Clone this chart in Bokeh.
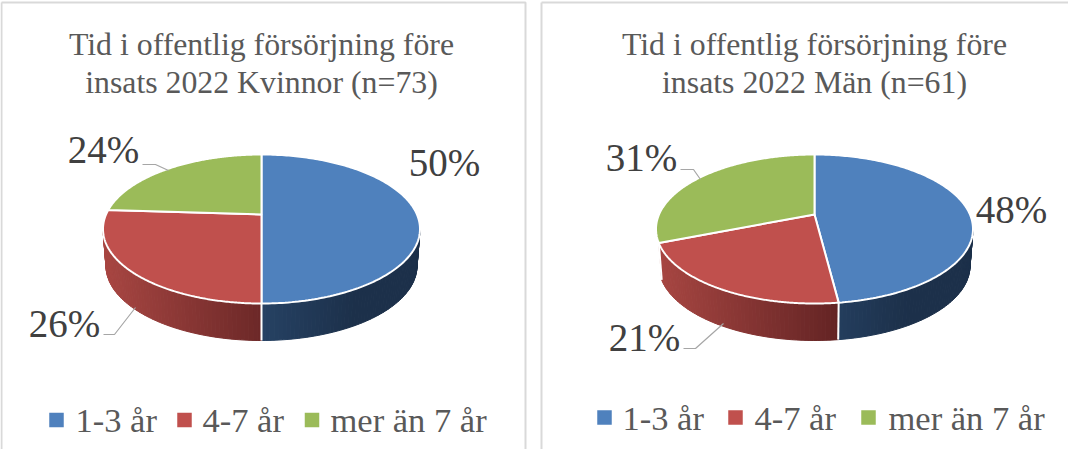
import numpy as np
from bokeh.plotting import figure
from bokeh.embed import file_html
from bokeh.resources import INLINE
from bokeh.models import Range1d
from bokeh.core.properties import value

categories = ["1-3 år", "4-7 år", "mer än 7 år"]
women = [50, 26, 24]
men = [48, 21, 31]
titles_women = ["Tid i offentlig försörjning före", "insats 2022 Kvinnor (n=73)"]
titles_men = ["Tid i offentlig försörjning före", "insats 2022 Män (n=61)"]
top_colors = ["#4F81BD", "#C0504D", "#9BBB59"]
side_light = [(38, 66, 100), (168, 70, 66), (120, 145, 70)]
side_dark = [(28, 48, 74), (100, 36, 36), (90, 110, 50)]

FONT = "Liberation Serif"
W, H = 1068, 449
p = figure(width=W, height=H, x_range=Range1d(8, 8 + W), y_range=Range1d(8 + H, 8),
           output_backend="svg", toolbar_location=None, min_border=0,
           outline_line_color=None, background_fill_color="white")
p.axis.visible = False
p.grid.visible = False

C = -0.195      # perspective shift of the pie's centre
B = 74.5        # half height of top ellipse
DEPTH = 37


def rim(theta, cx, cy, a):
    u, v = np.sin(theta), -np.cos(theta)
    ap = a * np.sqrt(1 - C * C)
    d = 1 + C * v
    return cx + ap * u / d, cy + B * (v + C) / d


def pie(values, cx, cy, a):
    edges = np.cumsum([0] + list(values)) / sum(values) * 2 * np.pi
    theta_vis = np.arccos(C)  # v = -C : widest point of the ellipse
    # sides (the last slice's side stays hidden, as in the source)
    for i in range(len(values) - 1):
        lo = max(edges[i], theta_vis)
        hi = min(edges[i + 1], 2 * np.pi - theta_vis)
        if hi > lo:
            th = np.linspace(lo, hi, int((hi - lo) * 45) + 2)
            x, y = rim(th, cx, cy, a)
            xb = cx + (x - cx) * (a - 3) / a
            yb = y + DEPTH
            xs, ys, cols = [], [], []
            for j in range(len(th) - 1):
                xs.append([x[j], x[j + 1], xb[j + 1], xb[j]])
                ys.append([y[j], y[j + 1], yb[j + 1], yb[j]])
                if i == 0:
                    t = np.clip((x[j] - cx) / (0.6 * a), 0, 1)
                    c0, c1 = side_light[0], side_dark[0]
                else:
                    t = np.clip((cx + 0.15 * a - x[j]) / (1.15 * a), 0, 1)
                    c0, c1 = side_dark[i], side_light[i]
                cols.append("#%02x%02x%02x" % tuple(int(round(c0[k] + (c1[k] - c0[k]) * t)) for k in range(3)))
            p.patches(xs, ys, fill_color=cols, line_color=cols, line_width=1)
    # white dividers on the side
    for e in edges[:-1]:
        if theta_vis <= e <= 2 * np.pi - theta_vis:
            x, y = rim(np.array([e]), cx, cy, a)
            xb = cx + (x - cx) * (a - 3) / a
            p.line([x[0], xb[0]], [y[0], y[0] + DEPTH], line_color="white", line_width=2)
    # top faces
    ax, ay = cx, cy + B * C
    for i in range(len(values)):
        th = np.linspace(edges[i], edges[i + 1], 180)
        x, y = rim(th, cx, cy, a)
        p.patch(np.r_[ax, x], np.r_[ay, y], fill_color=top_colors[i], line_color="white", line_width=2)


def panel(values, lines, cx, label_pos, leaders, legend_y, legend_sq, legend_tx):
    for k, t in enumerate(lines):
        p.text([cx], [52 + 38 * k], text=[t], text_font=value(FONT), text_font_size="31.8px",
               text_color="#595959", text_align="center", text_baseline="middle")
    pie(values, cx, 236.5, 158.5)
    for v, (lx, ly) in zip(values, label_pos):
        p.text([lx], [ly], text=[f"{v}%"], text_font=value(FONT), text_font_size="39px",
               text_color="#404040", text_align="center", text_baseline="middle")
    for lead in leaders:
        p.line([q[0] for q in lead], [q[1] for q in lead], line_color="#a6a6a6", line_width=1.2)
    p.scatter(legend_sq, [legend_y] * 3, marker="square", size=14.5, fill_color=top_colors, line_color=None)
    p.text(legend_tx, [legend_y] * 3, text=categories, text_font=value(FONT), text_font_size="34.5px",
           text_color="#595959", text_align="left", text_baseline="middle")


# panel frames
p.line([9, 9], [465, 10], line_color="#d9d9d9", line_width=2)
p.line([9, 533, 533], [10, 10, 465], line_color="#d9d9d9", line_width=2)
p.line([549, 549], [465, 10], line_color="#d9d9d9", line_width=2)
p.line([549, 1084], [10, 10], line_color="#d9d9d9", line_width=2)

panel(women, titles_women, 269,
      [(452, 170), (72, 331), (111, 157)],
      [[(111, 342), (122, 342), (143, 315)], [(150, 172), (163, 172), (176, 178)]],
      427.5, [64, 192, 319.5], [83, 210, 338])
panel(men, titles_men, 822,
      [(1019, 217), (652, 345), (649, 165)],
      [[(691, 356), (703, 356), (731, 331)], [(688, 177), (701, 177), (708, 187)]],
      425, [612, 743, 876], [630, 762, 896])

open("out.html", "w").write(file_html(p, INLINE))
